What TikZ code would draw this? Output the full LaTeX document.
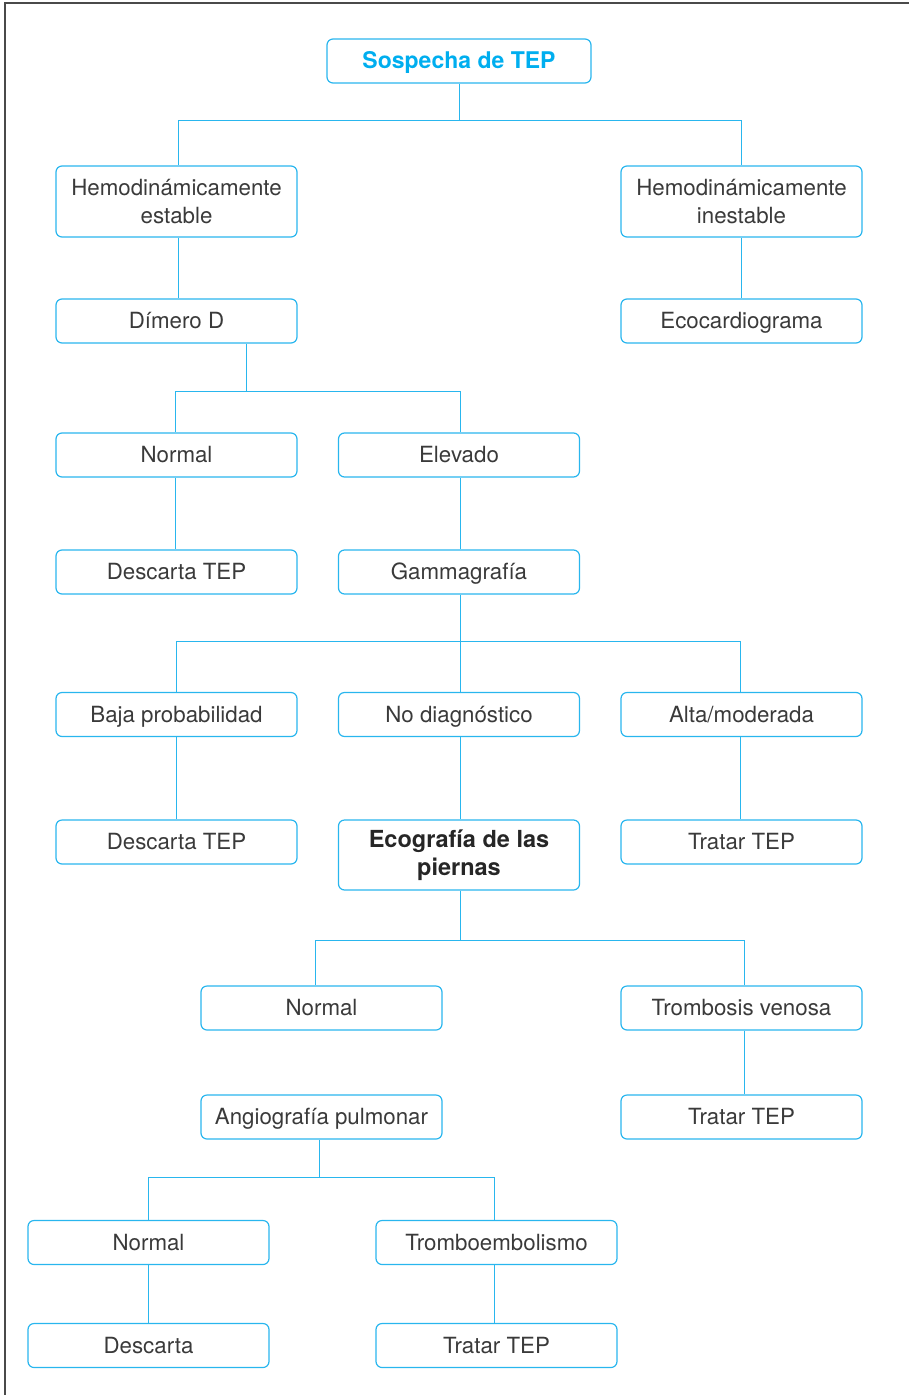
\documentclass[tikz,border=0pt]{standalone}
\usepackage{fontspec}
\setmainfont{TeX Gyre Heros}
\usetikzlibrary{calc}
\definecolor{cyanline}{HTML}{29B6EE}
\definecolor{cyantitle}{HTML}{00AEEF}
\definecolor{txt}{HTML}{3A3A3A}
\definecolor{frame}{HTML}{4A4A4A}
\begin{document}
\begin{tikzpicture}[x=1pt,y=-1pt,
  box/.style={draw=cyanline,line width=1.2pt,rounded corners=6pt,
    minimum width=241pt,minimum height=44pt,inner sep=0pt,
    align=center,text=txt,font=\fontsize{22.3}{28}\selectfont},
  one/.style={text height=15.8pt,text depth=0pt},
  tall/.style={minimum height=71pt},
  link/.style={draw=cyanline,line width=1pt}]
\useasboundingbox (0,0) rectangle (909,1395);
% page frame: top and left rules only
\draw[frame,line width=1.6pt] (5,1395) -- (5,3) -- (909,3);

% boxes
\node[box,one,minimum width=264pt,text=cyantitle,font=\fontsize{23}{28}\selectfont\bfseries] (sos) at (459,61) {Sospecha de TEP};
\node[box,tall] (he) at (176.5,201.5) {Hemodinámicamente\\estable};
\node[box,tall] (hi) at (741.5,201.5) {Hemodinámicamente\\inestable};
\node[box,one] (dim) at (176.5,321) {Dímero D};
\node[box,one] (eco) at (741.5,321) {Ecocardiograma};
\node[box,one] (n1) at (176.5,455) {Normal};
\node[box,one] (ele) at (459,455) {Elevado};
\node[box,one] (d1) at (176.5,572) {Descarta TEP};
\node[box,one] (gam) at (459,572) {Gammagrafía};
\node[box,one] (baja) at (176.5,714.5) {Baja probabilidad};
\node[box,one] (nod) at (459,714.5) {No diagnóstico};
\node[box,one] (alta) at (741.5,714.5) {Alta/moderada};
\node[box,one] (d2) at (176.5,842) {Descarta TEP};
\node[box,minimum height=70pt,font=\fontsize{23.5}{28}\selectfont\bfseries,text=black!85] (ecog) at (459,855) {Ecografía de las\\piernas};
\node[box,one] (t1) at (741.5,842) {Tratar TEP};
\node[box,one] (n2) at (321.5,1008) {Normal};
\node[box,one] (tv) at (741.5,1008) {Trombosis venosa};
\node[box,one] (ang) at (321.5,1117) {Angiografía pulmonar};
\node[box,one] (t2) at (741.5,1117) {Tratar TEP};
\node[box,one] (n3) at (148.5,1242.5) {Normal};
\node[box,one] (tromb) at (496.5,1242.5) {Tromboembolismo};
\node[box,one] (desc) at (148.5,1345.5) {Descarta};
\node[box,one] (t3) at (496.5,1345.5) {Tratar TEP};

% connectors
\coordinate (j1) at ($(sos.south)+(0,37)$);
\draw[link] (sos.south) -- (j1);
\draw[link] (j1) -| ([xshift=1.5pt]he.north);
\draw[link] (j1) -| (hi.north);
\draw[link] ([xshift=1.5pt]he.south) -- ([xshift=1.5pt]dim.north);
\draw[link] (hi.south) -- (eco.north);

\coordinate (d0) at ($(dim.south)+(69.5,0)$);
\coordinate (j2) at ($(d0)+(0,48)$);
\draw[link] (d0) -- (j2);
\draw[link] (j2) -| ([xshift=-1.5pt]n1.north);
\draw[link] (j2) -| ([xshift=1pt]ele.north);
\draw[link] ([xshift=-1.5pt]n1.south) -- ([xshift=-1.5pt]d1.north);
\draw[link] ([xshift=1pt]ele.south) -- ([xshift=1pt]gam.north);

\coordinate (j3) at ($([xshift=1pt]gam.south)+(0,47)$);
\draw[link] ([xshift=1pt]gam.south) -- (j3);
\draw[link] (j3) -| (baja.north);
\draw[link] (j3) -| ([xshift=1pt]nod.north);
\draw[link] (j3) -| ([xshift=-1.5pt]alta.north);
\draw[link] (baja.south) -- (d2.north);
\draw[link] ([xshift=1pt]nod.south) -- ([xshift=1pt]ecog.north);
\draw[link] ([xshift=-1.5pt]alta.south) -- ([xshift=-1.5pt]t1.north);

\coordinate (j4) at ($([xshift=1pt]ecog.south)+(0,50)$);
\draw[link] ([xshift=1pt]ecog.south) -- (j4);
\draw[link] (j4) -| ([xshift=-6.5pt]n2.north);
\draw[link] (j4) -| ([xshift=2.5pt]tv.north);
\draw[link] ([xshift=2.5pt]tv.south) -- ([xshift=2.5pt]t2.north);

\coordinate (j5) at ($([xshift=-2.5pt]ang.south)+(0,38)$);
\draw[link] ([xshift=-2.5pt]ang.south) -- (j5);
\draw[link] (j5) -| (n3.north);
\draw[link] (j5) -| ([xshift=-2.5pt]tromb.north);
\draw[link] (n3.south) -- (desc.north);
\draw[link] ([xshift=-2.5pt]tromb.south) -- ([xshift=-2.5pt]t3.north);
\end{tikzpicture}
\end{document}
